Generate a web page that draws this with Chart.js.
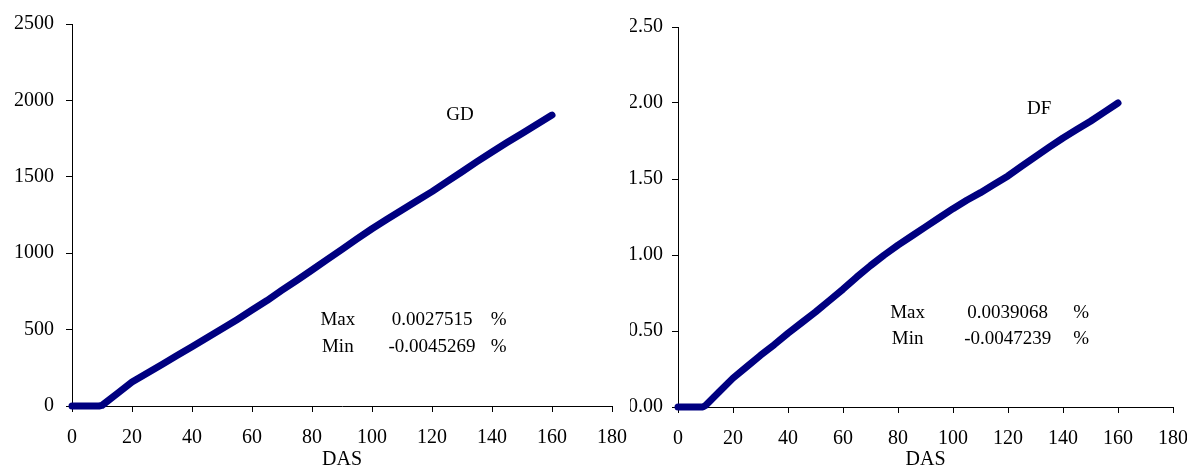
<!DOCTYPE html>
<html>
<head>
<meta charset="utf-8">
<script src="https://cdn.jsdelivr.net/npm/chart.js@4/dist/chart.umd.min.js"></script>
<style>
  html, body { margin: 0; padding: 0; background: #fff; overflow: hidden; }
  #wrap { position: relative; width: 1187px; height: 466px; }
  canvas { position: absolute; top: 0; }
</style>
</head>
<body>
<div id="wrap">
  <canvas id="gdChart" width="630" height="466" style="left:0"></canvas>
  <canvas id="dfChart" width="560" height="466" style="left:630px"></canvas>
</div>
<script>
// days after sowing
const das = [0, 5, 9, 10, 15, 20, 25, 30, 35, 40, 45, 50, 55, 60, 65, 70, 75, 80,
             85, 90, 95, 100, 105, 110, 115, 120, 125, 130, 135, 140, 145, 150, 155, 160]

// growing degree days
const gdValues = [0, 0, 0, 4, 80, 157, 215, 272, 330, 388, 447, 505, 565, 628, 690, 758, 823, 890,
                  958, 1025, 1094, 1160, 1222, 1283, 1343, 1403, 1468, 1533, 1599, 1662, 1724, 1784, 1844, 1904]

// development fraction
const dfValues = [0, 0, 0, 0.01, 0.10, 0.19, 0.265, 0.34, 0.41, 0.485, 0.555, 0.625, 0.70, 0.775, 0.855, 0.93, 1.0, 1.065,
                  1.125, 1.185, 1.245, 1.305, 1.36, 1.41, 1.465, 1.52, 1.585, 1.648, 1.71, 1.77, 1.825, 1.88, 1.94, 2.00]

const xTicks = [0, 20, 40, 60, 80, 100, 120, 140, 160, 180]
const gdTicks = [0, 500, 1000, 1500, 2000, 2500]
const dfTicks = [0, 0.5, 1.0, 1.5, 2.0, 2.5]

const gdNotes = [
    {text: "GD", x: 129.3, y: 1904, align: "center"},
    {text: "Max", x: 88.6, y: 563, align: "center"},
    {text: "0.0027515", x: 120, y: 563, align: "center"},
    {text: "%", x: 142.2, y: 563, align: "center"},
    {text: "Min", x: 88.6, y: 386, align: "center"},
    {text: "-0.0045269", x: 120, y: 386, align: "center"},
    {text: "%", x: 142.2, y: 386, align: "center"},
]
const dfNotes = [
    {text: "DF", x: 131.3, y: 1.96, align: "center"},
    {text: "Max", x: 83.5, y: 0.62, align: "center"},
    {text: "0.0039068", x: 119.9, y: 0.62, align: "center"},
    {text: "%", x: 146.6, y: 0.62, align: "center"},
    {text: "Min", x: 83.5, y: 0.445, align: "center"},
    {text: "-0.0047239", x: 119.9, y: 0.445, align: "center"},
    {text: "%", x: 146.6, y: 0.445, align: "center"},
]

const serif = "'Liberation Serif', 'Times New Roman', serif"
const navy = "#000080"

// draws the text notes inside each plot, placed in data coordinates
const notesPlugin = {
    id: "notes",
    afterDatasetsDraw(chart, args, opts) {
        const {ctx, scales} = chart
        ctx.save()
        ctx.font = "19px " + serif
        ctx.fillStyle = "#000"
        ctx.textBaseline = "middle"
        opts.items.forEach(n => {
            ctx.textAlign = n.align
            ctx.fillText(n.text, scales.x.getPixelForValue(n.x), scales.y.getPixelForValue(n.y))
        })
        ctx.restore()
    }
}

function makeChart(id, values, yTicks, notes, cfg)
{
    const points = das.map((d, i) => ({x: d, y: values[i]}))
    return new Chart(document.getElementById(id), {
        type: "line",
        data: {
            datasets: [{
                data: points,
                borderColor: navy,
                backgroundColor: navy,
                borderWidth: 7,
                borderCapStyle: "round",
                borderJoinStyle: "round",
                pointRadius: 0,
                tension: 0,
                clip: false,
            }]
        },
        plugins: [notesPlugin],
        options: {
            responsive: false,
            animation: false,
            devicePixelRatio: 1,
            layout: {padding: {left: 0, top: cfg.top, right: cfg.right, bottom: 0}},
            plugins: {
                legend: {display: false},
                tooltip: {enabled: false},
                notes: {items: notes},
            },
            scales: {
                x: {
                    type: "linear",
                    min: xTicks[0],
                    max: xTicks[xTicks.length - 1],
                    afterBuildTicks: s => { s.ticks = xTicks.map(v => ({value: v})) },
                    afterFit: s => {
                        s.height = cfg.xHeight
                        s.paddingLeft = 0
                        s.paddingRight = 0
                    },
                    grid: {drawOnChartArea: false, drawTicks: true, tickLength: 6, color: "#000", lineWidth: 1},
                    border: {display: true, color: "#000", width: 1},
                    ticks: {color: "#000", font: {family: serif, size: 20}, padding: 14, maxRotation: 0, autoSkip: false},
                    title: {display: true, text: "DAS", color: "#000", font: {family: serif, size: 20}, padding: {top: 0, bottom: -6}},
                },
                y: {
                    type: "linear",
                    min: yTicks[0],
                    max: yTicks[yTicks.length - 1],
                    afterBuildTicks: s => { s.ticks = yTicks.map(v => ({value: v})) },
                    afterFit: s => { s.width = cfg.yWidth },
                    grid: {drawOnChartArea: false, drawTicks: true, tickLength: 6, color: "#000", lineWidth: 1},
                    border: {display: true, color: "#000", width: 1},
                    ticks: {color: "#000", font: {family: serif, size: 20}, padding: cfg.yPad, callback: cfg.fmt},
                },
            },
        },
    })
}

makeChart("gdChart", gdValues, gdTicks, gdNotes,
    {top: 24, right: 18, xHeight: 60, yWidth: 72, yPad: 12, fmt: v => String(v)})
makeChart("dfChart", dfValues, dfTicks, dfNotes,
    {top: 27, right: 17, xHeight: 59, yWidth: 48, yPad: 9, fmt: v => Number(v).toFixed(2)})
</script>
</body>
</html>
